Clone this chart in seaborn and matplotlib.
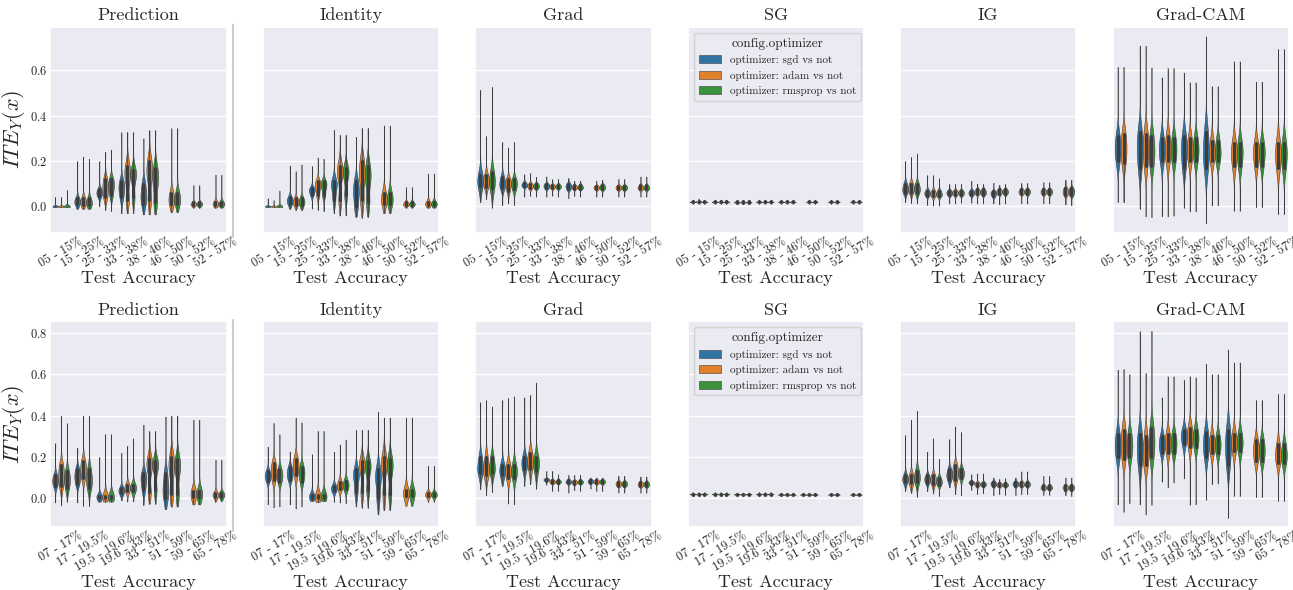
import matplotlib.pyplot as plt
from matplotlib.lines import Line2D
import pandas as pd
import seaborn as sns

# ---- data: per bin (sgd, adam, rmsprop), each (lo, q1, median, q3, hi) ----
optimizers = ["optimizer: sgd vs not", "optimizer: adam vs not", "optimizer: rmsprop vs not"]
methods = ["Prediction", "Identity", "Grad", "SG", "IG", "Grad-CAM"]
top_bins = ["05 - 15%", "15 - 25%", "25 - 33%", "33 - 38%", "38 - 46%", "46 - 50%", "50 - 52%", "52 - 57%"]
bottom_bins = ["07 - 17%", "17 - 19.5%", "19.5 - 19.6%", "19.6 - 33%", "33 - 51%", "51 - 59%", "59 - 65%", "65 - 78%"]

top_prediction = [
    [(-0.003, 0.0, 0.0, 0.002, 0.042), (-0.003, 0.0, 0.0, 0.002, 0.042), (-0.003, 0.0, 0.0, 0.002, 0.072)],
    [(-0.01, 0.01, 0.02, 0.035, 0.20), (-0.01, 0.005, 0.02, 0.035, 0.22), (-0.01, 0.005, 0.015, 0.035, 0.21)],
    [(0.0, 0.045, 0.06, 0.075, 0.20), (-0.015, 0.04, 0.08, 0.12, 0.24), (-0.02, 0.05, 0.09, 0.12, 0.25)],
    [(-0.03, 0.04, 0.08, 0.11, 0.327), (-0.03, 0.03, 0.13, 0.18, 0.327), (-0.03, 0.04, 0.13, 0.16, 0.327)],
    [(-0.035, 0.01, 0.05, 0.10, 0.30), (-0.035, 0.03, 0.14, 0.20, 0.335), (-0.035, 0.02, 0.11, 0.17, 0.335)],
    [None, (-0.025, 0.01, 0.03, 0.06, 0.345), (-0.025, 0.01, 0.03, 0.06, 0.345)],
    [None, (-0.005, 0.005, 0.01, 0.018, 0.094), (-0.005, 0.005, 0.01, 0.018, 0.094)],
    [None, (-0.005, 0.005, 0.01, 0.02, 0.14), (-0.005, 0.005, 0.01, 0.02, 0.14)],
]
top_identity = [
    [(-0.003, 0.0, 0.0, 0.002, 0.036), (-0.003, 0.0, 0.0, 0.002, 0.028), (-0.003, 0.0, 0.0, 0.002, 0.07)],
    [(-0.01, 0.01, 0.025, 0.04, 0.18), (-0.015, 0.005, 0.02, 0.035, 0.155), (-0.015, 0.005, 0.02, 0.035, 0.185)],
    [(-0.01, 0.05, 0.07, 0.08, 0.178), (-0.015, 0.05, 0.09, 0.11, 0.215), (-0.02, 0.05, 0.09, 0.11, 0.21)],
    [(-0.03, 0.03, 0.09, 0.11, 0.337), (-0.04, 0.03, 0.14, 0.18, 0.315), (-0.04, 0.05, 0.14, 0.17, 0.315)],
    [(-0.045, 0.0, 0.06, 0.11, 0.307), (-0.05, 0.03, 0.13, 0.20, 0.345), (-0.045, 0.02, 0.12, 0.18, 0.345)],
    [None, (-0.03, 0.01, 0.03, 0.06, 0.357), (-0.03, 0.01, 0.03, 0.06, 0.357)],
    [None, (-0.005, 0.005, 0.01, 0.02, 0.085), (-0.005, 0.005, 0.01, 0.02, 0.085)],
    [None, (-0.005, 0.005, 0.01, 0.02, 0.145), (-0.005, 0.005, 0.01, 0.02, 0.145)],
]
top_grad = [
    [(0.02, 0.09, 0.11, 0.14, 0.514), (0.033, 0.085, 0.11, 0.14, 0.31), (-0.005, 0.08, 0.11, 0.15, 0.527)],
    [(0.006, 0.08, 0.10, 0.13, 0.284), (0.013, 0.07, 0.10, 0.12, 0.26), (0.006, 0.075, 0.10, 0.12, 0.284)],
    [(0.043, 0.088, 0.095, 0.105, 0.142), (0.046, 0.08, 0.09, 0.10, 0.147), (0.043, 0.08, 0.09, 0.10, 0.13)],
    [(0.043, 0.08, 0.09, 0.10, 0.132), (0.047, 0.08, 0.088, 0.095, 0.12), (0.043, 0.08, 0.088, 0.096, 0.12)],
    [(0.036, 0.075, 0.088, 0.10, 0.124), (0.046, 0.078, 0.085, 0.093, 0.113), (0.043, 0.078, 0.085, 0.095, 0.113)],
    [None, (0.043, 0.075, 0.083, 0.09, 0.113), (0.043, 0.075, 0.085, 0.095, 0.117)],
    [None, (0.043, 0.075, 0.083, 0.092, 0.121), (0.043, 0.075, 0.083, 0.092, 0.121)],
    [None, (0.043, 0.075, 0.083, 0.093, 0.132), (0.043, 0.075, 0.083, 0.093, 0.132)],
]
top_sg = [
    [(0.012, 0.018, 0.02, 0.023, 0.03), (0.012, 0.018, 0.021, 0.024, 0.035), (0.012, 0.018, 0.02, 0.023, 0.03)],
    [(0.012, 0.018, 0.02, 0.023, 0.03), (0.012, 0.018, 0.02, 0.023, 0.03), (0.012, 0.018, 0.02, 0.023, 0.03)],
    [(0.012, 0.017, 0.019, 0.022, 0.028), (0.012, 0.017, 0.019, 0.022, 0.028), (0.012, 0.017, 0.019, 0.022, 0.028)],
    [(0.012, 0.018, 0.02, 0.023, 0.03), (0.012, 0.018, 0.02, 0.023, 0.03), (0.012, 0.018, 0.02, 0.023, 0.03)],
    [(0.012, 0.018, 0.02, 0.023, 0.03), (0.012, 0.018, 0.02, 0.023, 0.03), (0.012, 0.018, 0.02, 0.023, 0.03)],
    [None, (0.012, 0.018, 0.02, 0.023, 0.03), (0.012, 0.018, 0.02, 0.023, 0.03)],
    [None, (0.012, 0.018, 0.02, 0.023, 0.028), (0.012, 0.018, 0.02, 0.023, 0.028)],
    [None, (0.012, 0.018, 0.02, 0.023, 0.028), (0.012, 0.018, 0.02, 0.023, 0.028)],
]
top_ig = [
    [(0.02, 0.06, 0.077, 0.10, 0.20), (0.016, 0.06, 0.08, 0.10, 0.218), (0.013, 0.06, 0.077, 0.10, 0.233)],
    [(0.006, 0.048, 0.058, 0.07, 0.138), (0.003, 0.045, 0.056, 0.07, 0.138), (0.003, 0.045, 0.055, 0.07, 0.124)],
    [(0.013, 0.05, 0.06, 0.07, 0.098), (0.013, 0.05, 0.06, 0.07, 0.098), (0.016, 0.05, 0.06, 0.07, 0.098)],
    [(0.016, 0.05, 0.06, 0.07, 0.113), (0.013, 0.055, 0.065, 0.075, 0.10), (0.013, 0.052, 0.063, 0.075, 0.098)],
    [(0.013, 0.045, 0.057, 0.067, 0.104), (0.009, 0.055, 0.065, 0.075, 0.095), (0.013, 0.055, 0.065, 0.075, 0.098)],
    [None, (0.013, 0.055, 0.065, 0.075, 0.102), (0.013, 0.055, 0.065, 0.075, 0.102)],
    [None, (0.013, 0.055, 0.065, 0.075, 0.107), (0.013, 0.055, 0.065, 0.075, 0.107)],
    [None, (0.009, 0.05, 0.065, 0.08, 0.117), (0.006, 0.05, 0.065, 0.08, 0.117)],
]
top_gradcam = [
    [(0.019, 0.20, 0.255, 0.31, 0.615), (0.019, 0.19, 0.255, 0.32, 0.615), None],
    [(-0.01, 0.17, 0.255, 0.33, 0.709), (-0.044, 0.18, 0.255, 0.32, 0.709), (-0.047, 0.18, 0.245, 0.31, 0.613)],
    [(-0.044, 0.20, 0.25, 0.30, 0.569), (-0.044, 0.20, 0.25, 0.31, 0.61), (-0.041, 0.20, 0.25, 0.30, 0.61)],
    [(-0.005, 0.17, 0.245, 0.31, 0.59), (-0.022, 0.20, 0.25, 0.30, 0.547), (-0.022, 0.20, 0.25, 0.30, 0.547)],
    [(-0.074, 0.17, 0.245, 0.33, 0.75), (0.004, 0.20, 0.24, 0.29, 0.53), (0.004, 0.20, 0.24, 0.29, 0.53)],
    [None, (-0.02, 0.18, 0.235, 0.28, 0.64), (-0.02, 0.18, 0.235, 0.28, 0.64)],
    [None, (-0.003, 0.18, 0.235, 0.28, 0.55), (-0.003, 0.18, 0.235, 0.28, 0.55)],
    [None, (-0.034, 0.17, 0.23, 0.28, 0.694), (-0.034, 0.17, 0.23, 0.28, 0.694)],
]

bottom_prediction = [
    [(-0.02, 0.06, 0.085, 0.11, 0.266), (-0.033, 0.06, 0.11, 0.16, 0.40), (-0.016, 0.05, 0.09, 0.13, 0.363)],
    [(-0.02, 0.07, 0.105, 0.14, 0.243), (-0.037, 0.10, 0.14, 0.18, 0.40), (-0.037, 0.05, 0.09, 0.14, 0.40)],
    [(-0.016, 0.0, 0.005, 0.012, 0.20), (-0.016, 0.0, 0.005, 0.012, 0.31), (-0.016, 0.0, 0.005, 0.012, 0.31)],
    [(-0.01, 0.025, 0.035, 0.05, 0.22), (-0.016, 0.035, 0.05, 0.065, 0.254), (-0.016, 0.035, 0.05, 0.065, 0.29)],
    [(-0.032, 0.04, 0.09, 0.12, 0.356), (-0.026, 0.03, 0.15, 0.19, 0.324), (-0.026, 0.04, 0.15, 0.18, 0.324)],
    [(-0.053, 0.0, 0.05, 0.12, 0.395), (-0.04, 0.02, 0.14, 0.20, 0.40), (-0.04, 0.02, 0.14, 0.19, 0.40)],
    [None, (-0.03, 0.005, 0.02, 0.035, 0.38), (-0.03, 0.005, 0.02, 0.035, 0.38)],
    [None, (-0.016, 0.008, 0.016, 0.025, 0.186), (-0.013, 0.008, 0.016, 0.025, 0.186)],
]
bottom_identity = [
    [(-0.03, 0.085, 0.108, 0.13, 0.25), (-0.045, 0.09, 0.13, 0.17, 0.364), (-0.04, 0.08, 0.11, 0.14, 0.31)],
    [(-0.03, 0.09, 0.12, 0.15, 0.226), (-0.05, 0.11, 0.157, 0.19, 0.39), (-0.04, 0.08, 0.12, 0.15, 0.367)],
    [(-0.013, 0.0, 0.008, 0.015, 0.213), (-0.018, 0.0, 0.008, 0.015, 0.326), (-0.013, 0.0, 0.008, 0.015, 0.326)],
    [(-0.018, 0.035, 0.047, 0.06, 0.225), (-0.021, 0.045, 0.06, 0.08, 0.26), (-0.024, 0.045, 0.063, 0.085, 0.283)],
    [(-0.04, 0.03, 0.10, 0.14, 0.33), (-0.045, 0.03, 0.15, 0.18, 0.33), (-0.045, 0.04, 0.14, 0.18, 0.33)],
    [(-0.078, 0.0, 0.09, 0.14, 0.418), (-0.057, 0.02, 0.15, 0.20, 0.39), (-0.057, 0.02, 0.14, 0.19, 0.39)],
    [None, (-0.037, 0.01, 0.024, 0.04, 0.39), (-0.037, 0.01, 0.024, 0.04, 0.39)],
    [None, (-0.018, 0.01, 0.018, 0.026, 0.157), (-0.018, 0.01, 0.018, 0.026, 0.157)],
]
bottom_grad = [
    [(0.044, 0.12, 0.15, 0.20, 0.464), (0.015, 0.11, 0.14, 0.20, 0.475), (0.03, 0.12, 0.15, 0.20, 0.444)],
    [(0.06, 0.11, 0.135, 0.16, 0.475), (-0.026, 0.10, 0.13, 0.16, 0.485), (-0.03, 0.10, 0.13, 0.16, 0.493)],
    [(0.06, 0.14, 0.17, 0.20, 0.488), (0.068, 0.14, 0.18, 0.22, 0.50), (0.047, 0.13, 0.17, 0.20, 0.56)],
    [(0.065, 0.085, 0.09, 0.095, 0.132), (0.035, 0.075, 0.08, 0.088, 0.132), (0.035, 0.075, 0.08, 0.088, 0.116)],
    [(0.027, 0.073, 0.08, 0.088, 0.113), (0.039, 0.07, 0.078, 0.085, 0.113), (0.035, 0.072, 0.079, 0.086, 0.113)],
    [(0.047, 0.075, 0.082, 0.09, 0.10), (0.035, 0.072, 0.08, 0.088, 0.10), (0.035, 0.072, 0.08, 0.088, 0.10)],
    [None, (0.027, 0.06, 0.07, 0.08, 0.108), (0.027, 0.06, 0.07, 0.08, 0.108)],
    [None, (0.027, 0.058, 0.068, 0.078, 0.105), (0.027, 0.058, 0.068, 0.078, 0.105)],
]
bottom_sg = [
    [(0.012, 0.017, 0.02, 0.022, 0.03), (0.012, 0.017, 0.02, 0.022, 0.03), (0.012, 0.017, 0.02, 0.022, 0.03)],
    [(0.012, 0.017, 0.02, 0.022, 0.03), (0.012, 0.017, 0.02, 0.022, 0.03), (0.012, 0.017, 0.02, 0.022, 0.03)],
    [(0.012, 0.016, 0.019, 0.021, 0.027), (0.012, 0.016, 0.019, 0.021, 0.027), (0.012, 0.016, 0.019, 0.021, 0.027)],
    [(0.012, 0.017, 0.02, 0.022, 0.03), (0.012, 0.017, 0.02, 0.022, 0.03), (0.012, 0.017, 0.02, 0.022, 0.03)],
    [(0.011, 0.016, 0.018, 0.021, 0.027), (0.011, 0.016, 0.018, 0.021, 0.027), (0.011, 0.016, 0.018, 0.021, 0.027)],
    [(0.011, 0.016, 0.018, 0.021, 0.027), (0.011, 0.016, 0.018, 0.021, 0.027), (0.011, 0.016, 0.018, 0.021, 0.027)],
    [None, (0.011, 0.016, 0.018, 0.021, 0.026), (0.011, 0.016, 0.018, 0.021, 0.026)],
    [None, (0.011, 0.016, 0.018, 0.021, 0.026), (0.011, 0.016, 0.018, 0.021, 0.026)],
]
bottom_ig = [
    [(0.035, 0.08, 0.092, 0.11, 0.305), (0.027, 0.075, 0.09, 0.11, 0.38), (0.008, 0.08, 0.10, 0.13, 0.423)],
    [(0.035, 0.075, 0.092, 0.11, 0.225), (0.023, 0.07, 0.09, 0.11, 0.29), (0.011, 0.065, 0.08, 0.10, 0.19)],
    [(0.052, 0.09, 0.113, 0.14, 0.286), (0.02, 0.09, 0.125, 0.16, 0.347), (0.015, 0.10, 0.12, 0.14, 0.32)],
    [(0.04, 0.07, 0.076, 0.082, 0.116), (0.02, 0.06, 0.068, 0.076, 0.12), (0.024, 0.06, 0.068, 0.076, 0.12)],
    [(0.015, 0.06, 0.07, 0.08, 0.10), (0.02, 0.058, 0.065, 0.073, 0.092), (0.016, 0.058, 0.065, 0.073, 0.097)],
    [(0.015, 0.06, 0.07, 0.08, 0.10), (0.02, 0.06, 0.068, 0.078, 0.13), (0.02, 0.06, 0.068, 0.078, 0.13)],
    [None, (0.016, 0.045, 0.052, 0.062, 0.108), (0.016, 0.045, 0.052, 0.062, 0.108)],
    [None, (0.016, 0.042, 0.052, 0.062, 0.10), (0.011, 0.042, 0.052, 0.062, 0.10)],
]
bottom_gradcam = [
    [(-0.03, 0.20, 0.254, 0.31, 0.622), (-0.066, 0.19, 0.26, 0.33, 0.625), (-0.024, 0.20, 0.255, 0.31, 0.60)],
    [(-0.03, 0.16, 0.24, 0.31, 0.808), (-0.078, 0.16, 0.22, 0.30, 0.606), (-0.032, 0.20, 0.27, 0.34, 0.81)],
    [(0.08, 0.22, 0.26, 0.30, 0.488), (0.052, 0.22, 0.27, 0.31, 0.59), (0.076, 0.22, 0.265, 0.31, 0.59)],
    [(0.097, 0.26, 0.30, 0.33, 0.573), (-0.032, 0.25, 0.30, 0.34, 0.59), (-0.03, 0.25, 0.29, 0.33, 0.585)],
    [(-0.008, 0.20, 0.26, 0.32, 0.65), (0.068, 0.22, 0.26, 0.30, 0.60), (0.071, 0.22, 0.26, 0.30, 0.60)],
    [(-0.094, 0.16, 0.25, 0.33, 0.72), (0.011, 0.23, 0.27, 0.31, 0.657), (0.011, 0.23, 0.27, 0.31, 0.657)],
    [None, (0.006, 0.18, 0.23, 0.28, 0.475), (0.006, 0.18, 0.23, 0.28, 0.475)],
    [None, (-0.013, 0.17, 0.21, 0.26, 0.504), (-0.013, 0.17, 0.21, 0.26, 0.504)],
]

top_panels = [top_prediction, top_identity, top_grad, top_sg, top_ig, top_gradcam]
bottom_panels = [bottom_prediction, bottom_identity, bottom_grad, bottom_sg, bottom_ig, bottom_gradcam]
ylabels = [r"$ITE_Y(x)$", r"$ITE_E(x)$", "", "", "", ""]
palette = ["#1f77b4", "#ff7f0e", "#2ca02c"]


def to_frame(panel, bins):
    # long table for seaborn: summary values, with the body weighted more than the extremes
    rows = []
    for b, trio in zip(bins, panel):
        for opt, stats in zip(optimizers, trio):
            if stats is None:
                continue
            lo, q1, med, q3, hi = stats
            vals = [lo] + [q1] * 10 + [med] * 14 + [q3] * 10 + [hi]
            rows += [(b, opt, v) for v in vals]
    return pd.DataFrame(rows, columns=["Test Accuracy", "config.optimizer", "ITE"])


sns.set_theme(style="darkgrid")
plt.rcParams["font.family"] = ["cmr10", "DejaVu Serif"]
plt.rcParams["mathtext.fontset"] = "cm"
plt.rcParams["axes.formatter.use_mathtext"] = True
plt.rcParams["axes.unicode_minus"] = False

fig, axes = plt.subplots(2, 6, figsize=(12.93, 5.9), dpi=100, sharey="row")
fig.subplots_adjust(left=0.0387, right=0.9969, top=0.9542, bottom=0.1068,
                    wspace=0.204, hspace=0.433)

for r, (panels, bins) in enumerate([(top_panels, top_bins), (bottom_panels, bottom_bins)]):
    for c, (method, panel) in enumerate(zip(methods, panels)):
        ax = axes[r, c]
        df = to_frame(panel, bins)
        sns.violinplot(
            data=df, x="Test Accuracy", y="ITE", hue="config.optimizer",
            order=bins, hue_order=optimizers, palette=palette,
            density_norm="width", cut=0, gridsize=200, linewidth=0.4,
            inner="box", inner_kws=dict(box_width=2.2, whis_width=0.5, marker=""),
            legend=(method == "SG"), ax=ax,
        )
        ax.set_title(method, fontsize=13, pad=5)
        ax.set_xlabel("Test Accuracy", fontsize=13, labelpad=0.5)
        ax.set_ylabel(ylabels[c], fontsize=16, labelpad=2)
        ax.tick_params(axis="both", length=0, pad=2)
        ax.tick_params(axis="x", labelrotation=30, labelsize=9)
        ax.tick_params(axis="y", labelsize=9)
        if method == "SG":
            sns.move_legend(ax, "upper center", bbox_to_anchor=(0.509, 0.971),
                            borderaxespad=0, fontsize=8, title_fontsize=9.5)

# separator between Prediction and the explanation methods
for y0, y1 in [(1 - 237 / 590, 1 - 25 / 590), (1 - 531 / 590, 1 - 320 / 590)]:
    fig.add_artist(Line2D([233 / 1293] * 2, [y0, y1], color="#cccccc", linewidth=1.5))

fig.savefig("out.png", dpi=100)
